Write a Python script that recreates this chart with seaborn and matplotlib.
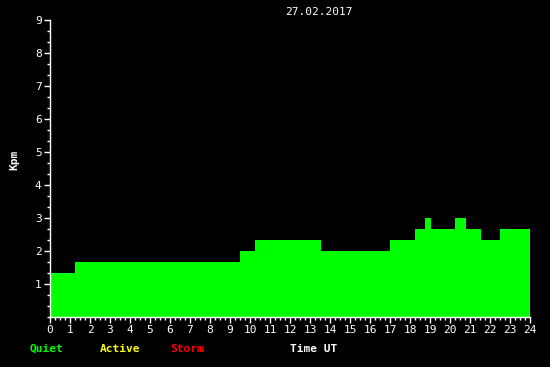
import numpy as np
import pandas as pd
import matplotlib
matplotlib.use("Agg")
import matplotlib.pyplot as plt
import seaborn as sns
from matplotlib.ticker import MultipleLocator

# Data: step intervals (hours UT) and Kpm values
edges = [0, 1.25, 9.5, 10.25, 13.55, 17.0, 18.25, 18.75, 19.05, 20.25, 20.8, 21.55, 22.5, 24.0]
kpm = [1.33, 1.67, 2.0, 2.33, 2.0, 2.33, 2.67, 3.0, 2.67, 3.0, 2.67, 2.33, 2.67]
title = "27.02.2017"
x_ticks = list(range(0, 25))
y_ticks = list(range(1, 10))

mids = [(a + b) / 2 for a, b in zip(edges[:-1], edges[1:])]
df = pd.DataFrame({"time": mids, "kpm": kpm})

sns.set_theme(style="dark")
plt.rcParams["font.family"] = ["DejaVu Sans Mono"]

W, H = 550, 367
fig = plt.figure(figsize=(W / 100, H / 100), dpi=100, facecolor="black")
ax = fig.add_axes([50 / W, (H - 317) / H, 480 / W, 297 / H])
ax.set_facecolor("black")

sns.histplot(data=df, x="time", weights="kpm", bins=edges, color="#00ff00",
             alpha=1, linewidth=0, edgecolor=None, ax=ax)

ax.set_xlim(0, 24)
ax.set_ylim(0, 9)
ax.grid(False)
for s in ["top", "right"]:
    ax.spines[s].set_visible(False)
for s in ["left", "bottom"]:
    ax.spines[s].set_color("white")
    ax.spines[s].set_linewidth(1)

ax.set_xticks(x_ticks)
ax.set_xticklabels([str(t) for t in x_ticks])
ax.set_yticks(y_ticks)
ax.set_yticklabels([str(t) for t in y_ticks])
ax.xaxis.set_minor_locator(MultipleLocator(0.25))
ax.yaxis.set_minor_locator(MultipleLocator(1 / 3))
ax.tick_params(axis="both", which="major", colors="white", labelcolor="white",
               labelsize=8, length=4, width=1, direction="out",
               bottom=True, left=True)
ax.tick_params(axis="both", which="minor", colors="white", length=2, width=1,
               direction="out", bottom=True, left=True)
ax.tick_params(axis="x", pad=2)
ax.tick_params(axis="y", pad=2)
ax.set_xlabel("")
ax.set_ylabel("")

fig.text(319 / W, 1 - 12 / H, title, color="white", fontsize=8,
         ha="center", va="center")
fig.text(14 / W, 1 - 160 / H, "Kpm", color="white", fontsize=8,
         fontweight="bold", rotation=90, ha="center", va="center")

legend_items = [("Quiet", "#00ff00", 30), ("Active", "#ffff00", 100),
                ("Storm", "#ff0000", 170), ("Time UT", "white", 290)]
for txt, col, xp in legend_items:
    fig.text(xp / W, 1 - 349 / H, txt, color=col, fontsize=8,
             fontweight="bold", ha="left", va="center")

fig.savefig("out.png", dpi=100, facecolor="black")
